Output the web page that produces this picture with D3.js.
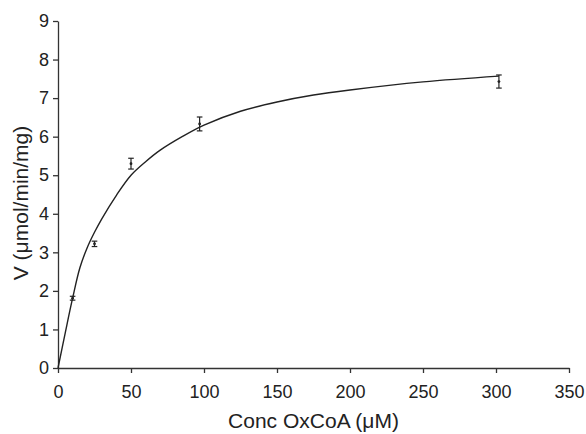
<!DOCTYPE html>
<html>
<head>
<meta charset="utf-8">
<script src="https://cdn.jsdelivr.net/npm/d3@7"></script>
<style>
  body { margin: 0; background: #fff; }
  svg { display: block; font-family: "Liberation Sans", Arial, sans-serif; }
</style>
</head>
<body>
<div id="chart"></div>
<script>
// measured points (mean, error)
const concs = [10, 25, 50, 97, 302];
const rates = [1.81, 3.22, 5.30, 6.33, 7.43];
const errs = [0.05, 0.07, 0.14, 0.18, 0.17];

// fitted curve
const curveX = [0, 5, 10, 15, 20, 25, 30, 40, 50, 60, 70, 85, 100, 125, 150, 175, 200, 250, 302];
const curveY = [0, 0.92, 1.81, 2.6, 3.12, 3.52, 3.87, 4.48, 5.0, 5.35, 5.65, 6.0, 6.3, 6.66, 6.9, 7.08, 7.21, 7.42, 7.57];

const xTicks = [0, 50, 100, 150, 200, 250, 300, 350];
const yTicks = [0, 1, 2, 3, 4, 5, 6, 7, 8, 9];

const width = 586, height = 434;
const margin = { top: 21, right: 17, bottom: 66, left: 58 };

const svg = d3.select("#chart").append("svg")
  .attr("width", width)
  .attr("height", height);

const x = d3.scaleLinear().domain([0, 350]).range([margin.left, width - margin.right]);
const y = d3.scaleLinear().domain([0, 9]).range([height - margin.bottom, margin.top]);

const axisColor = "#333";

const gx = svg.append("g")
  .attr("transform", `translate(0,${height - margin.bottom})`)
  .call(d3.axisBottom(x).tickValues(xTicks).tickSize(5).tickPadding(12).tickSizeOuter(0));

const gy = svg.append("g")
  .attr("transform", `translate(${margin.left},0)`)
  .call(d3.axisLeft(y).tickValues(yTicks).tickSize(5).tickPadding(4).tickSizeOuter(0));

[gx, gy].forEach(g => {
  g.select(".domain").attr("stroke", axisColor).attr("stroke-width", 1.3);
  g.selectAll(".tick line").attr("stroke", axisColor).attr("stroke-width", 1.3);
  g.selectAll(".tick text").attr("fill", "#222").attr("font-size", 18)
    .attr("font-family", "'Liberation Sans', Arial, sans-serif");
});

// curve
const line = d3.line()
  .x(d => x(d[0]))
  .y(d => y(d[1]))
  .curve(d3.curveCatmullRom.alpha(0.5));

svg.append("path")
  .datum(curveX.map((v, i) => [v, curveY[i]]))
  .attr("d", line)
  .attr("fill", "none")
  .attr("stroke", "#222")
  .attr("stroke-width", 1.4);

// error bars
const pts = concs.map((c, i) => ({ c, v: rates[i], e: errs[i] }));
const bars = svg.append("g").attr("stroke", "#222").attr("stroke-width", 1.2);
const cap = 2.8;

bars.selectAll(".stem").data(pts).join("line")
  .attr("x1", d => x(d.c)).attr("x2", d => x(d.c))
  .attr("y1", d => y(d.v - d.e)).attr("y2", d => y(d.v + d.e));
bars.selectAll(".top").data(pts).join("line")
  .attr("x1", d => x(d.c) - cap).attr("x2", d => x(d.c) + cap)
  .attr("y1", d => y(d.v + d.e)).attr("y2", d => y(d.v + d.e));
bars.selectAll(".bot").data(pts).join("line")
  .attr("x1", d => x(d.c) - cap).attr("x2", d => x(d.c) + cap)
  .attr("y1", d => y(d.v - d.e)).attr("y2", d => y(d.v - d.e));

svg.append("g").selectAll("circle").data(pts).join("circle")
  .attr("cx", d => x(d.c)).attr("cy", d => y(d.v))
  .attr("r", 1.4).attr("fill", "#222");

// axis titles
svg.append("text")
  .attr("x", (margin.left + width - margin.right) / 2)
  .attr("y", 428)
  .attr("text-anchor", "middle")
  .attr("font-size", 21)
  .attr("fill", "#222")
  .text("Conc OxCoA (\u03bcM)");

svg.append("text")
  .attr("transform", "translate(28,203) rotate(-90)")
  .attr("text-anchor", "middle")
  .attr("font-size", 21)
  .attr("fill", "#222")
  .text("V (\u03bcmol/min/mg)");
</script>
</body>
</html>
